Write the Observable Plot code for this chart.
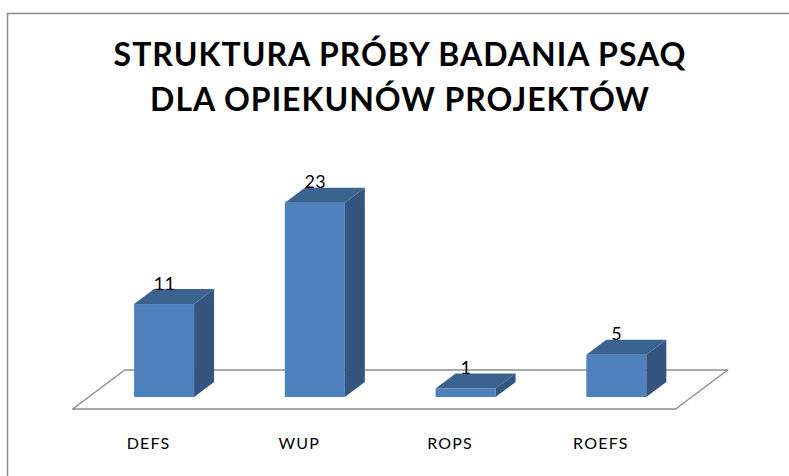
<!DOCTYPE html>
<html>
<head>
<meta charset="utf-8">
<script src="https://cdn.jsdelivr.net/npm/d3@7"></script>
<script src="https://cdn.jsdelivr.net/npm/@observablehq/plot@0.6"></script>
<style>
  html, body { margin: 0; padding: 0; background: #fff; }
  #chart svg { display: block; }
</style>
</head>
<body>
<div id="chart"></div>
<script>
// ---- data ----
const categories = ["DEFS", "WUP", "ROPS", "ROEFS"];
const values = [11, 23, 1, 5];
const titleLines = ["STRUKTURA PRÓBY BADANIA PSAQ", "DLA OPIEKUNÓW PROJEKTÓW"];

// ---- pseudo-3D projection style (one unit of depth) ----
const depthX = 0.1327;   // x-units per depth unit
const depthY = 1.775;    // y-units per depth unit
const halfW = 0.199;     // half bar width (x-units)
const floorFront = -0.8, floorBack = 1.8;

const bars = categories.map((c, i) => ({c, i, v: values[i]}));

const sideRows = bars.flatMap(d => [
  {c: d.c, x: d.i + halfW, y1: 0, y2: d.v},
  {c: d.c, x: d.i + halfW + depthX, y1: depthY, y2: d.v + depthY}
]);
const topRows = bars.flatMap(d => [
  {c: d.c, y: d.v, x1: d.i - halfW, x2: d.i + halfW},
  {c: d.c, y: d.v + depthY, x1: d.i - halfW + depthX, x2: d.i + halfW + depthX}
]);
const floorRows = [floorFront, floorBack].map(z => ({
  y: z * depthY, x1: -0.5 + z * depthX, x2: categories.length - 0.5 + z * depthX
}));

const font = "Lato, 'Open Sans', sans-serif";

const chart = Plot.plot({
  width: 789,
  height: 476,
  margin: 0,
  style: {background: "#fff", fontFamily: font},
  x: {domain: [-0.5, 3.5], range: [88.7, 691.7], axis: null},
  y: {domain: [0, 25], range: [397, 397 - 25 * 8.45], axis: null},
  marks: [
    Plot.frame({stroke: "#8c8c8c", strokeWidth: 1.5, insetLeft: 7, insetTop: 13, insetRight: -10, insetBottom: -10}),
    Plot.areaX(floorRows, {y: "y", x1: "x1", x2: "x2", fill: "#fff", stroke: "#8e8e8e", strokeWidth: 1.5}),
    Plot.rect(bars, {x1: d => d.i - halfW, x2: d => d.i + halfW, y1: 0, y2: "v", fill: "#4F81BD"}),
    Plot.areaY(sideRows, {x: "x", y1: "y1", y2: "y2", z: "c", fill: "#34557F"}),
    Plot.areaX(topRows, {y: "y", x1: "x1", x2: "x2", z: "c", fill: "#3B6390"}),
    Plot.text(bars, {x: "i", y: "v", text: d => String(d.v), lineAnchor: "bottom", dy: -15,
      fontSize: 18, fill: "#000"}),
    Plot.text(bars, {x: d => d.i + floorFront * depthX, y: floorFront * depthY, text: "c",
      lineAnchor: "bottom", dy: 40, fontSize: 16, fill: "#000"}),
    Plot.text([titleLines[0]], {frameAnchor: "top", text: d => d, lineAnchor: "bottom", dy: 65, dx: 5,
      fontSize: 32, fontWeight: "bold", fill: "#000"}),
    Plot.text([titleLines[1]], {frameAnchor: "top", text: d => d, lineAnchor: "bottom", dy: 110, dx: 5,
      fontSize: 32, fontWeight: "bold", fill: "#000"})
  ]
});

// letter spacing (style only)
d3.select(chart).selectAll("text").each(function () {
  const t = this.textContent;
  if (titleLines.includes(t)) this.style.letterSpacing = "1px";
  else if (categories.includes(t)) this.style.letterSpacing = "1.2px";
  else this.style.letterSpacing = "0.5px";
});

document.getElementById("chart").appendChild(chart);
</script>
</body>
</html>
